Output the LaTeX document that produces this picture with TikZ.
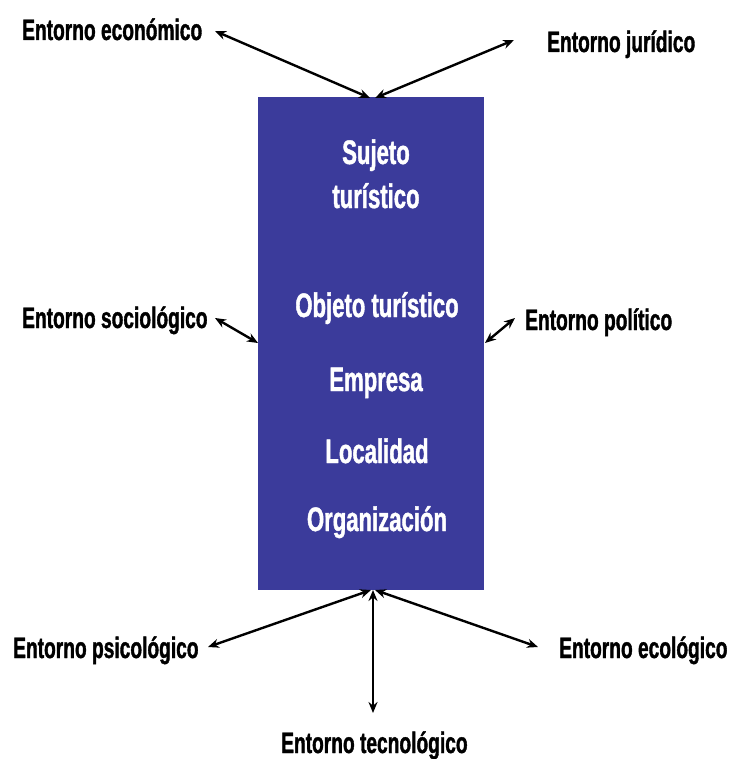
\documentclass[tikz,border=0pt]{standalone}
\usepackage{fontspec}
\setmainfont{Liberation Sans}[FakeStretch=0.65, BoldFeatures={FakeBold=1.2}]
\usetikzlibrary{arrows.meta}
\definecolor{boxblue}{RGB}{59,59,155}
\begin{document}
\begin{tikzpicture}[x=1pt,y=-1pt,
  lab/.style={font=\bfseries\fontsize{29.5}{29}\selectfont, inner sep=0pt, anchor=base west},
  inlab/.style={font=\bfseries\fontsize{34}{34}\selectfont, text=white, inner sep=0pt, anchor=base},
  link/.style={line width=2.4pt, {Stealth[length=11pt,width=9pt]}-{Stealth[length=11pt,width=9pt]}}]
\useasboundingbox (0,0) rectangle (729,759);
\node[fill=boxblue, minimum width=226pt, minimum height=493pt, inner sep=0pt, anchor=north west] (box) at (258,97) {};
% outer labels
\node[lab] (econ) at (22,40) {Entorno económico};
\node[lab] (jur) at (547,52) {Entorno jurídico};
\node[lab] (soc) at (22,328) {Entorno sociológico};
\node[lab] (pol) at (525,330) {Entorno político};
\node[lab] (psi) at (13,658) {Entorno psicológico};
\node[lab] (eco) at (559,658) {Entorno ecológico};
\node[lab] (tec) at (281,753) {Entorno tecnológico};
% inner labels
\node[inlab] (s1) at (376,164) {Sujeto};
\node[inlab] (s2) at (376,208) {turístico};
\node[inlab] (o1) at (377,317) {Objeto turístico};
\node[inlab] (o2) at (376,391) {Empresa};
\node[inlab] (o3) at (377,463) {Localidad};
\node[inlab] (o4) at (377,531) {Organización};
% connector ends
\coordinate (econA) at (215,31);
\coordinate (topL) at (370,98);
\coordinate (jurA) at (514,40);
\coordinate (topR) at (375,98);
\coordinate (socA) at (215,318);
\coordinate (boxL) at (258,343);
\coordinate (polA) at (515,318);
\coordinate (boxR) at (485,343);
\coordinate (botL) at (371,590);
\coordinate (botR) at (375,590);
\coordinate (botM) at (373,590);
\coordinate (psiA) at (208,647);
\coordinate (ecoA) at (538,647);
\coordinate (tecA) at (373,713);
% connectors
\draw[link] (econA) -- (topL);
\draw[link] (jurA) -- (topR);
\draw[link] (socA) -- (boxL);
\draw[link] (polA) -- (boxR);
\draw[link] (psiA) -- (botL);
\draw[link] (ecoA) -- (botR);
\draw[link] (tecA) -- (botM);
\end{tikzpicture}
\end{document}
